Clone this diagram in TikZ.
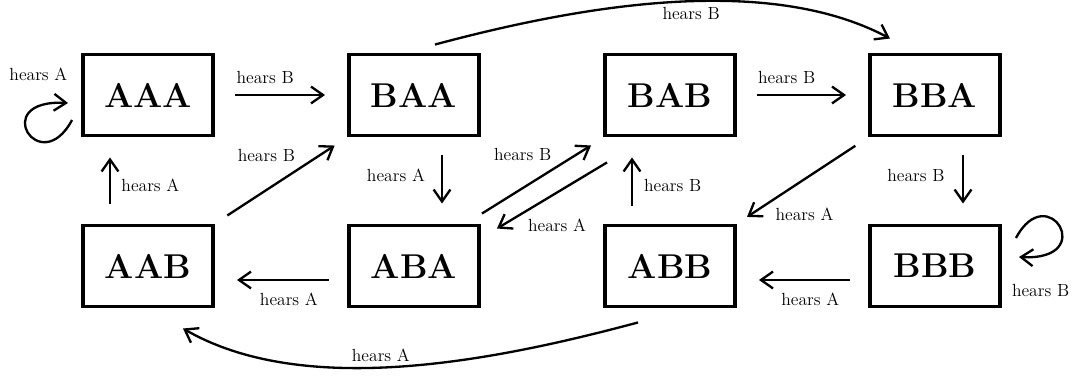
\documentclass[tikz,border=0pt]{standalone}
\usetikzlibrary{arrows.meta}

\tikzset{
    state/.style={draw, line width=2.8pt, minimum width=3.25cm, minimum height=2.025cm,
        inner sep=0pt, font=\fontsize{24.5}{28}\selectfont\bfseries},
    trans/.style={line width=1.65pt, -{Straight Barb[length=3mm,width=4.2mm]}},
    lbl/.style={font=\fontsize{12.5}{14}\selectfont}
}

\begin{document}
\begin{tikzpicture}
    \useasboundingbox (0,0) rectangle (26.875,9.375);

    % States (top row)
    \node[state] (AAA) at (3.7,7) {AAA};
    \node[state] (BAA) at (10.35,7) {BAA};
    \node[state] (BAB) at (16.75,7) {BAB};
    \node[state] (BBA) at (23.375,7) {BBA};

    % States (bottom row)
    \node[state] (AAB) at (3.7,2.725) {AAB};
    \node[state] (ABA) at (10.35,2.725) {ABA};
    \node[state] (ABB) at (16.75,2.725) {ABB};
    \node[state] (BBB) at (23.375,2.725) {BBB};

    % Horizontal transitions
    \draw[trans, shorten <=0.5cm, shorten >=0.55cm] (AAA.east) -- (BAA.west)
        node[lbl, pos=0.38, above=4pt] {hears B};
    \draw[trans, shorten <=0.5cm, shorten >=0.55cm] (BAB.east) -- (BBA.west)
        node[lbl, pos=0.38, above=4pt] {hears B};
    \draw[trans, shorten <=0.45cm, shorten >=0.55cm] ([yshift=-0.35cm]ABA.west) -- ([yshift=-0.35cm]AAB.east)
        node[lbl, pos=0.44, below=5pt] {hears A};
    \draw[trans, shorten <=0.45cm, shorten >=0.55cm] ([yshift=-0.35cm]BBB.west) -- ([yshift=-0.35cm]ABB.east)
        node[lbl, pos=0.44, below=5pt] {hears A};

    % Vertical transitions
    \draw[trans, shorten <=0.5cm, shorten >=0.5cm] ([xshift=-0.95cm]AAB.north) -- ([xshift=-0.95cm]AAA.south)
        node[lbl, pos=0.44, right=4pt] {hears A};
    \draw[trans, shorten <=0.45cm, shorten >=0.5cm] ([xshift=0.7cm]BAA.south) -- ([xshift=0.7cm]ABA.north)
        node[lbl, pos=0.44, left=8pt] {hears A};
    \draw[trans, shorten <=0.45cm, shorten >=0.5cm] ([xshift=-0.95cm]ABB.north) -- ([xshift=-0.95cm]BAB.south)
        node[lbl, pos=0.44, right=4.5pt] {hears B};
    \draw[trans, shorten <=0.45cm, shorten >=0.5cm] ([xshift=0.7cm]BBA.south) -- ([xshift=0.7cm]BBB.north)
        node[lbl, pos=0.44, left=9pt] {hears B};

    % Diagonal transitions
    \draw[trans, shorten <=0.37cm, shorten >=0.37cm] (AAB.north east) -- (BAA.south west)
        node[lbl, pos=0.65, above left] {hears B};
    \draw[trans, shorten <=0.38cm, shorten >=0.3cm] (BBA.south west) -- (ABB.north east)
        node[lbl, pos=0.75, below right] {hears A};
    \draw[trans] ([shift={(0.025,0.25)}]ABA.north east) -- ([shift={(-0.3,-0.2)}]BAB.south west)
        node[lbl, pos=0.69, above left] {hears B};
    \draw[trans] ([shift={(0.1,-0.625)}]BAB.south west) -- ([shift={(0.4,-0.125)}]ABA.north east)
        node[lbl, pos=0.77, below right] {hears A};

    % Long curved transitions
    \draw[trans] ([shift={(0.525,0.2)}]BAA.north) to[out=15, in=152, looseness=0.8]
        node[lbl, pos=0.55, below] {hears B} ([shift={(-1.125,0.35)}]BBA.north);
    \draw[trans] ([shift={(-0.8,-0.35)}]ABB.south) to[out=195, in=-30, looseness=0.8]
        node[lbl, pos=0.55, above] {hears A} ([shift={(0.875,-0.5)}]AAB.south);

    % Self loops
    \draw[trans] ([shift={(-0.225,-0.625)}]AAA.west) .. controls +(-0.8,-1.5) and +(-2.0,0.1)
        .. ([shift={(-0.325,-0.2)}]AAA.west)
        node[lbl, pos=0.85, above=0.5cm, xshift=-0.05cm] {hears A};
    \draw[trans] ([shift={(0.35,0.7)}]BBB.east) .. controls +(0.8,1.5) and +(2.0,-0.1)
        .. ([shift={(0.425,0.225)}]BBB.east)
        node[lbl, pos=0.85, below=0.62cm, xshift=-0.15cm] {hears B};
\end{tikzpicture}
\end{document}
